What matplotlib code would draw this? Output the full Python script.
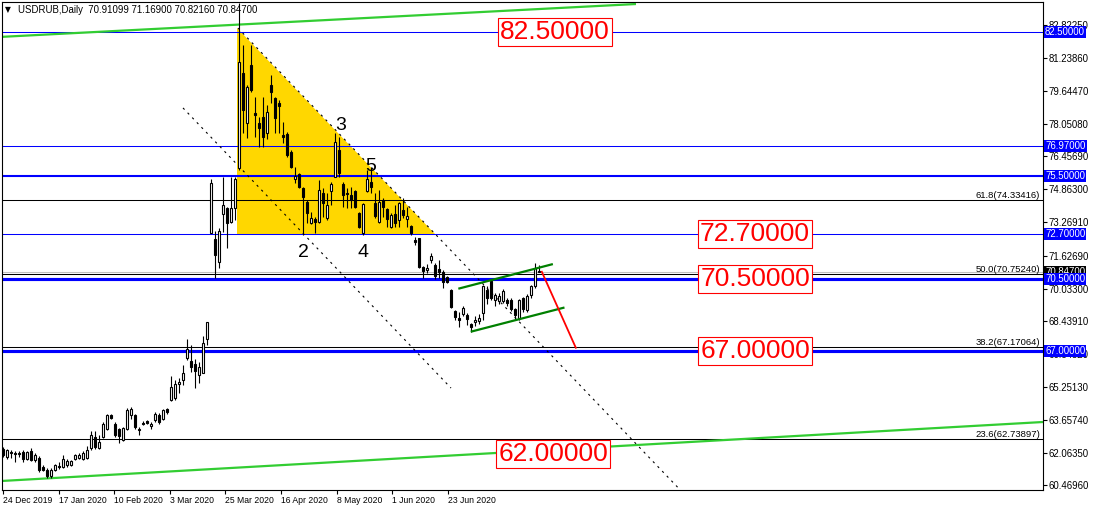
import matplotlib
matplotlib.use("Agg")
import matplotlib.pyplot as plt
from matplotlib.patches import Polygon
import numpy as np

plt.rcParams['font.family'] = ['Liberation Sans', 'DejaVu Sans']

# daily candles, bar 0 = 24 Dec 2019
opens = [62.25, 61.85, 62.09, 62.03, 62.03, 62.09, 61.73, 62.12, 61.68, 61.80,
         61.36, 61.20, 60.92, 61.20, 61.42, 61.36, 61.47, 61.47, 61.76, 61.80,
         61.76, 61.80, 62.28, 62.82, 62.28, 62.82, 63.22, 63.87, 63.47, 63.19,
         62.67, 63.22, 63.87, 63.87, 63.22, 63.51, 63.58, 63.38, 63.63, 63.90,
         63.71, 64.19, 64.62, 64.70, 65.38, 65.59, 66.64, 66.53, 66.35, 65.83,
         65.91, 67.56, 72.72, 72.44, 71.34, 73.68, 73.93, 73.25, 73.93, 75.87,
         80.49, 78.09, 80.90, 78.55, 78.09, 78.38, 77.57, 79.92, 79.28, 79.03,
         77.50, 77.52, 76.68, 75.34, 75.60, 74.90, 74.25, 73.23, 73.39, 73.28,
         74.66, 73.44, 74.79, 75.47, 76.77, 75.11, 74.66, 74.58, 74.77, 73.69,
         72.75, 74.79, 75.23, 74.17, 73.28, 74.33, 73.88, 73.04, 73.65, 73.36,
         73.85, 73.40, 73.07, 72.41, 72.47, 71.10, 70.93, 71.41, 71.18, 70.97,
         70.85, 70.58, 69.96, 68.94, 68.58, 68.80, 68.75, 68.31, 68.43, 68.47,
         68.83, 69.96, 70.39, 69.50, 69.42, 69.42, 69.50, 69.50, 69.02, 68.61,
         69.58, 68.98, 69.70, 70.15, 70.91]
highs = [62.33, 62.25, 62.17, 62.12, 62.15, 62.17, 62.15, 62.30, 62.03, 61.90,
         61.47, 61.30, 61.30, 61.52, 61.60, 61.95, 61.75, 61.70, 61.98, 62.06,
         62.15, 62.40, 63.10, 63.11, 62.93, 63.55, 63.95, 63.95, 63.55, 63.25,
         63.30, 64.25, 64.30, 63.92, 63.30, 63.60, 63.65, 63.55, 64.05, 64.00,
         64.19, 64.25, 65.78, 65.59, 65.67, 66.32, 67.56, 67.29, 66.59, 66.48,
         67.73, 68.42, 75.34, 72.85, 72.96, 75.44, 74.01, 75.44, 75.47, 83.90,
         81.87, 79.92, 81.87, 79.36, 78.38, 79.36, 78.95, 80.41, 79.36, 79.19,
         78.14, 77.66, 76.77, 75.95, 75.63, 74.98, 74.33, 73.77, 73.52, 75.31,
         74.90, 74.66, 75.23, 77.61, 77.41, 75.23, 74.90, 74.98, 74.82, 73.77,
         74.17, 75.79, 75.95, 74.66, 74.82, 74.42, 73.93, 73.69, 74.09, 74.25,
         74.42, 74.01, 73.12, 72.55, 72.47, 71.12, 71.25, 71.77, 71.28, 71.42,
         70.94, 70.65, 70.00, 69.00, 68.90, 69.20, 68.83, 68.34, 68.70, 68.80,
         70.20, 70.15, 70.50, 69.83, 69.80, 70.00, 69.58, 69.58, 69.10, 69.55,
         69.60, 69.75, 70.23, 71.28, 71.17]
lows = [61.85, 61.75, 61.80, 61.62, 61.85, 61.62, 61.70, 61.65, 61.62, 61.10,
        61.15, 60.85, 60.85, 61.15, 61.25, 61.30, 61.38, 61.40, 61.72, 61.76,
        61.72, 61.73, 62.20, 62.25, 62.22, 62.75, 63.15, 63.70, 62.82, 62.54,
        62.62, 63.14, 63.70, 63.22, 62.90, 63.40, 63.45, 63.22, 63.55, 63.45,
        63.65, 63.95, 64.55, 64.62, 64.94, 65.34, 66.56, 65.99, 65.22, 65.43,
        65.91, 67.29, 72.72, 70.57, 71.01, 72.80, 71.99, 73.20, 73.36, 75.79,
        77.57, 77.33, 79.60, 77.41, 76.93, 76.93, 77.30, 79.03, 77.57, 77.57,
        77.10, 76.44, 75.87, 75.15, 74.90, 72.63, 73.20, 73.17, 72.71, 73.20,
        73.53, 73.36, 74.09, 75.47, 75.47, 74.01, 73.93, 73.93, 73.93, 72.96,
        72.63, 74.74, 74.70, 73.44, 73.20, 73.52, 73.04, 72.96, 73.04, 73.04,
        73.44, 73.04, 72.63, 72.15, 71.02, 70.53, 70.80, 71.28, 70.50, 70.53,
        70.04, 70.28, 69.10, 68.50, 68.18, 68.70, 68.25, 67.94, 68.20, 68.30,
        68.50, 69.26, 69.50, 69.18, 69.30, 69.35, 69.20, 68.94, 68.53, 68.50,
        68.90, 68.90, 69.58, 70.07, 70.82]
closes = [61.93, 62.17, 62.06, 61.99, 61.98, 61.76, 62.09, 61.68, 61.96, 61.20,
          61.23, 60.95, 61.23, 61.47, 61.36, 61.76, 61.65, 61.65, 61.93, 61.96,
          62.06, 62.17, 62.93, 62.33, 62.57, 63.47, 63.90, 63.74, 62.90, 62.87,
          63.25, 64.15, 64.19, 63.30, 63.14, 63.47, 63.51, 63.47, 63.95, 63.55,
          64.11, 64.03, 65.26, 65.38, 65.51, 65.91, 67.08, 66.24, 66.04, 66.24,
          67.37, 68.42, 75.15, 71.66, 72.85, 74.09, 73.20, 73.96, 75.34, 81.03,
          78.71, 79.81, 79.68, 78.45, 77.82, 77.41, 78.63, 79.60, 78.30, 78.90,
          77.41, 76.52, 75.96, 75.50, 74.98, 74.50, 73.69, 73.47, 73.28, 74.82,
          74.17, 74.09, 75.11, 77.17, 75.63, 74.58, 74.61, 74.33, 74.01, 73.04,
          74.14, 75.34, 74.98, 73.56, 74.25, 74.01, 73.40, 73.60, 73.20, 74.17,
          73.61, 73.56, 72.72, 72.31, 71.10, 70.90, 71.05, 71.64, 70.64, 70.85,
          70.37, 70.34, 69.15, 68.67, 68.53, 69.07, 68.54, 68.18, 68.50, 68.59,
          70.16, 69.58, 69.58, 69.70, 69.67, 69.91, 69.34, 69.05, 68.77, 69.50,
          69.02, 69.67, 70.15, 71.04, 70.85]

date_labels = ["24 Dec 2019", "17 Jan 2020", "10 Feb 2020", "3 Mar 2020", "25 Mar 2020",
               "16 Apr 2020", "8 May 2020", "1 Jun 2020", "23 Jun 2020"]

blue_levels = [82.5, 76.97, 75.5, 72.7, 70.5, 67.0]
blue_widths = [1, 1, 2, 1, 3, 3]
fib_levels = [74.33416, 70.7524, 67.17064, 62.73897]
fib_names = ["61.8", "50.0", "38.2", "23.6"]
bid_price = 70.847
axis_ticks = [82.8225, 81.2386, 79.6447, 78.0508, 76.4569, 74.863, 73.2691,
              71.6269, 70.033, 68.4391, 66.8452, 65.2513, 63.6574, 62.0635, 60.4696]
big_labels = [82.5, 72.7, 70.5, 67.0, 62.0]
big_label_x = [138, 188, 188, 188, 137.5]
wave_names = ["2", "3", "4", "5"]
wave_bars = [75, 84.3, 90, 92]
wave_prices = [71.8, 77.95, 71.8, 75.95]

# trendlines (bar, price)
green_top = [(-0.75, 82.26), (158.25, 83.86)]
green_bottom = [(-0.75, 60.68), (260, 63.55)]
chan_up = [(114.1, 70.04), (137.2, 71.21)]
chan_low = [(117.2, 67.95), (140.1, 69.10)]
red_path = [(134.7, 70.85), (143.2, 67.16)]
dash_a = [(58.75, 82.69), (169.3, 60.25)]
dash_b = [(45.0, 78.81), (112.0, 65.2)]
triangle = [(58.45, 82.69), (58.45, 72.7), (107.9, 72.7)]

fig = plt.figure(figsize=(10.94, 5.11), dpi=100)
ax = fig.add_axes([2 / 1094, 21 / 511, 1041 / 1094, 488 / 511])
ax.set_xlim(-0.25, 260)
ax.set_ylim(60.246, 83.958)

ax.add_patch(Polygon(triangle, closed=True, facecolor="#FFD700", edgecolor="none", zorder=1))

for lv, lw in zip(blue_levels, blue_widths):
    ax.axhline(lv, color="#0000FF", lw=lw * 0.75, zorder=2)
ax.axhline(bid_price, color="#C0C0C0", lw=0.75, zorder=2)
for lv, nm in zip(fib_levels, fib_names):
    ax.axhline(lv, color="black", lw=0.75, zorder=2)
    ax.text(0.997, lv, f"{nm}({lv:.5f})", transform=ax.get_yaxis_transform(),
            ha="right", va="bottom", fontsize=6.8, zorder=5)

ax.plot(*zip(*green_top), color="#32CD32", lw=1.6, zorder=2, solid_capstyle="butt")
ax.plot(*zip(*green_bottom), color="#32CD32", lw=1.6, zorder=2, solid_capstyle="butt")
ax.plot(*zip(*dash_a), color="black", lw=0.8, ls=(0, (2, 4)), zorder=2)
ax.plot(*zip(*dash_b), color="black", lw=0.8, ls=(0, (2, 4)), zorder=2)

# candles
x = np.arange(len(opens))
o = np.array(opens); h = np.array(highs); l = np.array(lows); c = np.array(closes)
ax.vlines(x, l, h, color="black", lw=0.8, zorder=3)
body_bottom = np.minimum(o, c)
body_h = np.maximum(np.abs(c - o), 0.01)
body_col = ["white" if cc >= oo else "black" for oo, cc in zip(o, c)]
ax.bar(x, body_h, bottom=body_bottom, width=0.55, color=body_col,
       edgecolor="black", linewidth=0.8, zorder=4)

ax.plot(*zip(*chan_up), color="#008000", lw=1.6, zorder=5)
ax.plot(*zip(*chan_low), color="#008000", lw=1.6, zorder=5)
ax.plot(*zip(*red_path), color="red", lw=1.3, zorder=5)

for nm, bx, py in zip(wave_names, wave_bars, wave_prices):
    ax.text(bx, py, nm, ha="center", va="center", fontsize=14, zorder=6)

for lv, bx in zip(big_labels, big_label_x):
    ax.text(bx, lv, f"{lv:.5f}", ha="center", va="center", fontsize=19, color="red",
            zorder=6, bbox=dict(boxstyle="square,pad=0.08", facecolor="white",
                                edgecolor="red", linewidth=0.8))

# right price scale
ax.yaxis.tick_right()
ax.set_yticks(axis_ticks)
ax.set_yticklabels([f"{t:.5f}" for t in axis_ticks])
ax.tick_params(axis="y", direction="out", length=3, width=0.8, labelsize=6.9, pad=1)
ax.text(1.002, bid_price, f"{bid_price:.5f}", transform=ax.get_yaxis_transform(),
        ha="left", va="center", fontsize=6.9, color="white", zorder=9, clip_on=False,
        bbox=dict(boxstyle="square,pad=0.12", facecolor="black", edgecolor="none"))
for lv in blue_levels:
    ax.text(1.002, lv, f"{lv:.5f}", transform=ax.get_yaxis_transform(), ha="left",
            va="center", fontsize=6.9, color="white", zorder=10, clip_on=False,
            bbox=dict(boxstyle="square,pad=0.12", facecolor="#0000FF", edgecolor="none"))

# dates
xt = [i * 13.9 for i in range(len(date_labels))]
ax.set_xticks(xt)
ax.set_xticklabels(date_labels)
for lbl in ax.get_xticklabels():
    lbl.set_ha("left")
ax.tick_params(axis="x", direction="out", length=3, width=0.8, labelsize=6.2, pad=1)

for sp in ax.spines.values():
    sp.set_color("black")
    sp.set_linewidth(0.8)

fig.text(5 / 1094, 1 - 10 / 511, "\u25BC", fontsize=5.5, va="center", ha="left",
         family="DejaVu Sans")
fig.text(18 / 1094, 1 - 10 / 511, "USDRUB,Daily  70.91099 71.16900 70.82160 70.84700",
         fontsize=6.9, va="center", ha="left")

fig.savefig("out.png", dpi=100)
